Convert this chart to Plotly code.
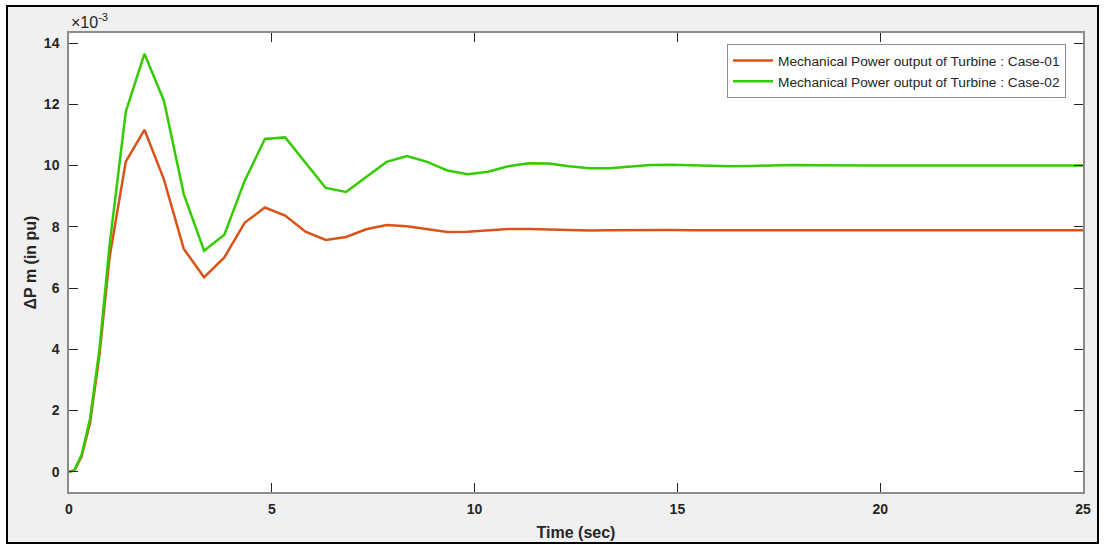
import numpy as np
import plotly.graph_objects as go

# Time (sec)
time_s = [0, 0.13, 0.31, 0.52, 0.75, 1.0, 1.4, 1.86, 2.34, 2.83, 3.33, 3.83, 4.33, 4.83,
          5.33, 5.83, 6.33, 6.83, 7.33, 7.83, 8.33, 8.83, 9.33, 9.83, 10.33, 10.83,
          11.33, 11.83, 12.33, 12.83, 13.33, 13.83, 14.33, 14.83, 15.33, 15.83, 16.33,
          16.83, 17.33, 17.83, 18.33, 18.83, 19.33, 19.83, 20.33, 20.83, 21.33, 21.83,
          22.33, 22.83, 23.33, 23.83, 24.33, 24.83, 25.0]

# Delta Pm in units of 1e-3 pu
case01_e3 = [0, 0.04, 0.5, 1.6, 3.8, 7.0, 10.13, 11.17, 9.55, 7.28, 6.35, 7.0, 8.13, 8.63,
             8.37, 7.84, 7.57, 7.67, 7.92, 8.06, 8.02, 7.93, 7.83, 7.84, 7.89, 7.93,
             7.93, 7.91, 7.88, 7.88, 7.89, 7.90, 7.90, 7.90, 7.89, 7.89, 7.89,
             7.89, 7.90, 7.90, 7.90, 7.89, 7.89, 7.89, 7.90, 7.90, 7.90, 7.89,
             7.89, 7.89, 7.89, 7.89, 7.89, 7.89, 7.89]
case02_e3 = [0, 0.05, 0.55, 1.74, 4.0, 7.4, 11.76, 13.65, 12.12, 9.07, 7.22, 7.74, 9.5, 10.87,
             10.92, 10.08, 9.27, 9.14, 9.62, 10.12, 10.31, 10.12, 9.84, 9.72, 9.80, 9.98,
             10.08, 10.07, 9.98, 9.91, 9.91, 9.97, 10.02, 10.03, 10.01, 9.99, 9.98,
             9.99, 10.01, 10.02, 10.01, 10.00, 10.00, 10.00, 10.00, 10.00, 10.01, 10.01,
             10.00, 10.00, 10.00, 10.00, 10.00, 10.00, 10.00]

names = ["Mechanical Power output of Turbine : Case-01",
         "Mechanical Power output of Turbine : Case-02"]
x_ticks = [0, 5, 10, 15, 20, 25]
y_ticks_e3 = [0, 2, 4, 6, 8, 10, 12, 14]

fig = go.Figure()
fig.add_trace(go.Scatter(x=time_s, y=np.array(case01_e3) * 1e-3, mode="lines", name=names[0],
                         line=dict(color="#D95319", width=2.5)))
fig.add_trace(go.Scatter(x=time_s, y=np.array(case02_e3) * 1e-3, mode="lines", name=names[1],
                         line=dict(color="#33CC00", width=2.5)))

L, R, T, B = 69, 21, 33, 53
W, H = 1104, 545
pw, ph = W - L - R, H - T - B

def px2paper_x(px):
    return (px - L) / pw

def px2paper_y(py):
    return (H - B - py) / ph

shapes = [
    dict(type="rect", xref="paper", yref="paper", layer="below",
         x0=px2paper_x(7), x1=px2paper_x(1098), y0=px2paper_y(543), y1=px2paper_y(6),
         fillcolor="#F0F0F0", line=dict(color="#000000", width=2)),
    dict(type="rect", xref="paper", yref="paper", layer="below",
         x0=0, x1=1, y0=0, y1=1, fillcolor="#FFFFFF", line=dict(width=0)),
]

axis_common = dict(
    showgrid=False, zeroline=False, showline=True, linecolor="#8C8C8C", linewidth=1.5,
    mirror="allticks", ticks="inside", ticklen=9, tickwidth=1, tickcolor="#262626",
    tickfont=dict(family="Liberation Sans, Arial", size=14, color="#262626"),
    automargin=False,
)

fig.update_layout(
    width=W, height=H,
    margin=dict(l=L, r=R, t=T, b=B),
    paper_bgcolor="#FFFFFF", plot_bgcolor="#FFFFFF",
    shapes=shapes,
    xaxis=dict(range=[0, 25], tickvals=x_ticks, ticktext=[f"<b>{v}</b>" for v in x_ticks],
               ticklabelstandoff=3,
               title=dict(text="<b>Time (sec)</b>", standoff=11,
                          font=dict(family="Liberation Sans, Arial", size=16, color="#262626")),
               **axis_common),
    yaxis=dict(range=[-0.00066, 0.01433], tickvals=[v * 1e-3 for v in y_ticks_e3],
               ticktext=[f"<b>{v}</b>" for v in y_ticks_e3],
               ticklabelstandoff=5,
               title=dict(text="<b>ΔP m (in pu)</b>", standoff=3,
                          font=dict(family="Liberation Sans, Arial", size=16, color="#262626")),
               **axis_common),
    legend=dict(x=px2paper_x(1066), y=px2paper_y(44), xanchor="right", yanchor="top",
                bgcolor="#FFFFFF", bordercolor="#8C8C8C", borderwidth=1,
                font=dict(family="Liberation Sans, Arial", size=13.7, color="#262626"),
                tracegroupgap=0, itemwidth=40),
    annotations=[dict(text="×10<sup>-3</sup>", xref="paper", yref="paper",
                      x=0, y=px2paper_y(21), xanchor="left", yanchor="middle", showarrow=False,
                      font=dict(family="Liberation Sans, Arial", size=16, color="#262626"))],
    showlegend=True,
)

fig.write_html("out.html", config={"displayModeBar": False},
               post_script="document.body.style.margin='0';document.body.style.padding='0';")
